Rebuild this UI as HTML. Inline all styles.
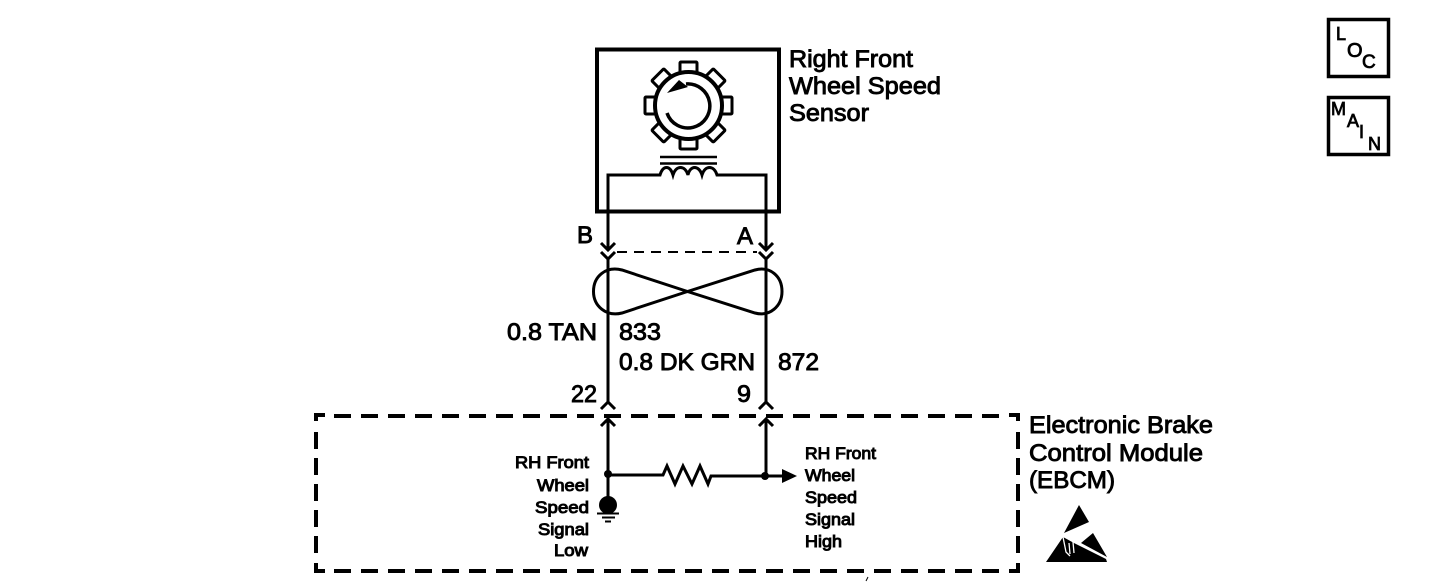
<!DOCTYPE html>
<html>
<head>
<meta charset="utf-8">
<style>
html,body{margin:0;padding:0;background:#fff;width:1456px;height:584px;overflow:hidden}
svg{display:block}
text{font-family:"Liberation Sans",sans-serif;fill:#000;stroke:#000;stroke-width:.9px}
.l{font-size:24px}
.s{font-size:17px;stroke-width:1px}
.t{font-size:18px;stroke-width:.8px}
.k{fill:none;stroke:#000;stroke-width:3.500}
</style>
</head>
<body>
<svg width="1456" height="584" viewBox="0 0 1456 584" xmlns="http://www.w3.org/2000/svg">
<!-- sensor box -->
<rect x="597" y="49.500" width="182" height="162" fill="none" stroke="#000" stroke-width="4"/>
<!-- gear -->
<g fill="#fff" stroke="#000" stroke-width="3">
<rect x="680" y="62" width="17" height="14" rx="1" transform="rotate(0 688.500 105.500)"/>
<rect x="680" y="62" width="17" height="14" rx="1" transform="rotate(45 688.500 105.500)"/>
<rect x="680" y="62" width="17" height="14" rx="1" transform="rotate(90 688.500 105.500)"/>
<rect x="680" y="62" width="17" height="14" rx="1" transform="rotate(135 688.500 105.500)"/>
<rect x="680" y="62" width="17" height="14" rx="1" transform="rotate(180 688.500 105.500)"/>
<rect x="680" y="62" width="17" height="14" rx="1" transform="rotate(225 688.500 105.500)"/>
<rect x="680" y="62" width="17" height="14" rx="1" transform="rotate(270 688.500 105.500)"/>
<rect x="680" y="62" width="17" height="14" rx="1" transform="rotate(315 688.500 105.500)"/>
<circle cx="688.500" cy="105.500" r="33.500" stroke-width="4"/>
</g>
<path class="k" d="M667 113 A22 22 0 1 0 686 84"/>
<polygon points="667,93 679,80 688,87"/>
<!-- coil -->
<path d="M660 157H717M660 163.500H717" stroke="#000" stroke-width="2.500" fill="none"/>
<path class="k" style="stroke-width:3" d="M766 229V175H717C714 165 705 165 702 175C699 165 690 165 688 175C685 165 676 165 673 175C670 165 663 165 660 175H608V229"/>
<!-- wires -->
<path d="M608 210V249M766 210V249M608 258V402M766 258V402" stroke="#000" stroke-width="3" fill="none"/>
<g fill="none" stroke="#000" stroke-width="3">
<path d="M601 243L608 250L615 243M601 252L608 259L615 252"/>
<path d="M759 243L766 250L773 243M759 252L766 259L773 252"/>
<path d="M601 409L608 402L615 409M759 409L766 402L773 409"/>
<path d="M601 426L608 419L615 426M759 426L766 419L773 426"/>
<path d="M617 252H757" stroke-dasharray="10 7" stroke-width="2"/>
<!-- twist -->
<path d="M687.500 291.500L622 270C606 266 593.500 276 593.500 291.500C593.500 306 606 317 622 313L687.500 291.500L755 270C770 266 782 276 782 291.500C782 306 770 317 755 313Z"/>
</g>
<!-- dashed box -->
<g fill="none" stroke="#000" stroke-width="4">
<path d="M334 416H1008" stroke-dasharray="17 10"/>
<path d="M334 571H1008" stroke-dasharray="17 10"/>
<path d="M316 432V553" stroke-dasharray="17 9"/>
<path d="M1018 432V553" stroke-dasharray="17 9"/>
<path d="M316 421V415H325M316 563V571H325M1018 421V415H1009M1018 563V571H1009"/>
</g>
<!-- internal -->
<path d="M608 419V505M766 419V476M608 475H663L667 466L675 484L683 466L692 484L700 466L708 484L711 476H785" fill="none" stroke="#000" stroke-width="3"/>
<circle cx="608" cy="474" r="4"/><circle cx="765" cy="476" r="4"/>
<polygon points="782,469 797,476 782,483"/>
<circle cx="608" cy="505" r="9"/>
<path d="M597 513.500H619M602 517.500H615M605 521.500H611" stroke="#000" stroke-width="2" fill="none"/>
<path d="M866 581L868 577" stroke="#000" stroke-width="1" fill="none"/>
<!-- ESD -->
<polygon points="1079,505 1089,522 1064,533"/>
<polygon points="1093,533 1107,557 1081,543"/>
<polygon points="1063,537 1046,562 1107,562 1106,559 1080,546 1074,543"/>
<path d="M1063 537L1066 552L1070 556M1069 543L1070 554M1073 542L1074 553" stroke="#fff" stroke-width="1.300" fill="none"/>
<!-- LOC MAIN -->
<rect x="1328.500" y="19.500" width="60" height="57" fill="none" stroke="#000" stroke-width="3.500"/>
<rect x="1328.500" y="97.500" width="60" height="57" fill="none" stroke="#000" stroke-width="3.500"/>
<text class="t" x="1336" y="40">L</text>
<text class="t" x="1347" y="57" style="font-size:20px">O</text>
<text class="t" x="1362" y="68" style="font-size:19px">C</text>
<text class="t" x="1331" y="115">M</text>
<text class="t" x="1347" y="127">A</text>
<text class="t" x="1359" y="138">I</text>
<text class="t" x="1368" y="150">N</text>
<!-- labels -->
<text class="l" x="789" y="67" textLength="124" lengthAdjust="spacingAndGlyphs">Right Front</text>
<text class="l" x="789" y="94" textLength="152" lengthAdjust="spacingAndGlyphs">Wheel Speed</text>
<text class="l" x="789" y="121" textLength="80" lengthAdjust="spacingAndGlyphs">Sensor</text>
<text class="l" x="577" y="243" textLength="16" lengthAdjust="spacingAndGlyphs">B</text>
<text class="l" x="737" y="244" textLength="16" lengthAdjust="spacingAndGlyphs">A</text>
<text class="l" x="507" y="340" textLength="90" lengthAdjust="spacingAndGlyphs">0.8 TAN</text>
<text class="l" x="619" y="340" textLength="42" lengthAdjust="spacingAndGlyphs">833</text>
<text class="l" x="619" y="370" textLength="136" lengthAdjust="spacingAndGlyphs">0.8 DK GRN</text>
<text class="l" x="778" y="370" textLength="41" lengthAdjust="spacingAndGlyphs">872</text>
<text class="l" x="571" y="402" textLength="26" lengthAdjust="spacingAndGlyphs">22</text>
<text class="l" x="737" y="402" textLength="14" lengthAdjust="spacingAndGlyphs">9</text>
<text class="l" x="1029" y="433" textLength="184" lengthAdjust="spacingAndGlyphs">Electronic Brake</text>
<text class="l" x="1029" y="461" textLength="174" lengthAdjust="spacingAndGlyphs">Control Module</text>
<text class="l" x="1029" y="488" textLength="86" lengthAdjust="spacingAndGlyphs">(EBCM)</text>
<text class="s" x="515" y="468" textLength="74" lengthAdjust="spacingAndGlyphs">RH Front</text>
<text class="s" x="537" y="491" textLength="52" lengthAdjust="spacingAndGlyphs">Wheel</text>
<text class="s" x="535" y="513" textLength="54" lengthAdjust="spacingAndGlyphs">Speed</text>
<text class="s" x="538" y="535" textLength="51" lengthAdjust="spacingAndGlyphs">Signal</text>
<text class="s" x="554" y="556" textLength="34" lengthAdjust="spacingAndGlyphs">Low</text>
<text class="s" x="805" y="459" textLength="71" lengthAdjust="spacingAndGlyphs">RH Front</text>
<text class="s" x="805" y="481" textLength="50" lengthAdjust="spacingAndGlyphs">Wheel</text>
<text class="s" x="805" y="503" textLength="52" lengthAdjust="spacingAndGlyphs">Speed</text>
<text class="s" x="805" y="525" textLength="50" lengthAdjust="spacingAndGlyphs">Signal</text>
<text class="s" x="805" y="547" textLength="37" lengthAdjust="spacingAndGlyphs">High</text>
</svg>
</body>
</html>
